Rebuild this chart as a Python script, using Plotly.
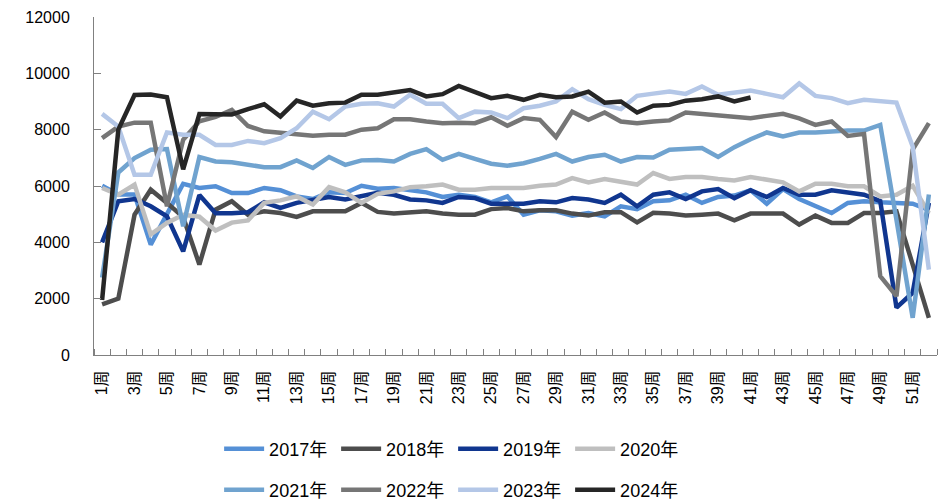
import plotly.graph_objects as go

weeks = list(range(1, 53))
tick_weeks = [1, 3, 5, 7, 9, 11, 13, 15, 17, 19, 21, 23, 25, 27, 29, 31, 33, 35, 37, 39, 41, 43, 45, 47, 49, 51]
tick_labels = ["1周", "3周", "5周", "7周", "9周", "11周", "13周", "15周", "17周", "19周", "21周", "23周", "25周",
               "27周", "29周", "31周", "33周", "35周", "37周", "39周", "41周", "43周", "45周", "47周", "49周", "51周"]

y2017 = [6010, 5700, 5700, 3920, 5000, 6080, 5930, 5990, 5750, 5750, 5930, 5850, 5630, 5540, 5775, 5750, 6010, 5900,
         5930, 5850, 5775, 5610, 5690, 5610, 5420, 5630, 4980, 5140, 5100, 4950, 5040, 4920, 5280, 5180, 5460, 5490,
         5690, 5400, 5610, 5660, 5850, 5370, 5890, 5540, 5280, 5040, 5400, 5460, 5420, 5400, 5370, 5150]
y2018 = [1800, 2000, 4980, 5870, 5400, 4900, 3210, 5160, 5460, 4980, 5100, 5040, 4900, 5100, 5100, 5100, 5400, 5080,
         5020, 5070, 5100, 5020, 4980, 4980, 5180, 5220, 5100, 5140, 5140, 5020, 4950, 5070, 5070, 4710, 5050, 5020,
         4950, 4980, 5020, 4780, 5020, 5020, 5020, 4630, 4950, 4690, 4690, 5040, 5040, 5100, 3250, 1320]
y2019 = [4000, 5460, 5540, 5280, 4920, 3680, 5680, 5030, 5030, 5070, 5420, 5220, 5400, 5520, 5610, 5520, 5630, 5760,
         5690, 5520, 5490, 5400, 5610, 5570, 5370, 5370, 5370, 5460, 5420, 5570, 5520, 5400, 5690, 5280, 5690, 5775,
         5540, 5810, 5890, 5570, 5850, 5610, 5930, 5690, 5690, 5850, 5775, 5690, 5460, 1680, 2210, 5400]
y2020 = [5930, 5690, 6050, 4280, 4690, 4980, 4910, 4420, 4700, 4780, 5400, 5490, 5630, 5340, 5960, 5775, 5400, 5720,
         5810, 5960, 5990, 6050, 5870, 5870, 5930, 5930, 5930, 6010, 6050, 6280, 6130, 6250, 6160, 6050, 6460, 6250,
         6320, 6320, 6250, 6200, 6320, 6220, 6130, 5810, 6080, 6080, 5990, 5990, 5630, 5690, 6010, 5040]
y2021 = [2750, 6480, 6990, 7290, 7310, 4570, 7030, 6870, 6840, 6750, 6670, 6670, 6910, 6640, 7030, 6750, 6910, 6920,
         6870, 7140, 7310, 6930, 7140, 6960, 6790, 6720, 6810, 6960, 7140, 6870, 7030, 7110, 6870, 7030, 7010, 7290,
         7310, 7350, 7030, 7380, 7660, 7900, 7760, 7900, 7900, 7940, 7970, 7970, 8170, 4800, 1320, 5700]
y2022 = [7700, 8110, 8250, 8250, 5280, 7640, 8300, 8450, 8700, 8130, 7940, 7880, 7820, 7780, 7820, 7820, 8000, 8050,
         8370, 8370, 8290, 8230, 8250, 8230, 8440, 8140, 8410, 8350, 7740, 8640, 8350, 8610, 8290, 8230, 8290, 8330,
         8610, 8560, 8490, 8470, 8410, 8490, 8560, 8400, 8170, 8290, 7780, 7850, 2800, 2090, 7290, 8230]
y2023 = [8560, 8110, 6400, 6400, 7900, 7820, 7820, 7460, 7460, 7600, 7520, 7700, 8050, 8640, 8370, 8820, 8920, 8940,
         8820, 9240, 8920, 8920, 8410, 8640, 8610, 8410, 8760, 8850, 9000, 9440, 9080, 8880, 8730, 9200, 9280, 9350,
         9270, 9530, 9240, 9320, 9390, 9270, 9150, 9640, 9200, 9120, 8940, 9060, 9030, 8960, 7400, 3030]
y2024 = [1950, 8000, 9230, 9250, 9150, 6590, 8555, 8555, 8540, 8730, 8900, 8470, 9030, 8850, 8940, 8960, 9240, 9240,
         9320, 9410, 9180, 9260, 9550, 9320, 9120, 9200, 9060, 9240, 9150, 9180, 9350, 8960, 9000, 8610, 8850, 8880,
         9030, 9080, 9180, 9000, 9140]

series = [
    ("2017年", y2017, "#5590D6", "legend"),
    ("2018年", y2018, "#4D4D4D", "legend"),
    ("2019年", y2019, "#10368F", "legend"),
    ("2020年", y2020, "#BFBFBF", "legend"),
    ("2021年", y2021, "#70A3CF", "legend2"),
    ("2022年", y2022, "#767676", "legend2"),
    ("2023年", y2023, "#B4C7E7", "legend2"),
    ("2024年", y2024, "#262626", "legend2"),
]

fig = go.Figure()
for name, vals, color, leg in series:
    fig.add_trace(go.Scatter(
        x=weeks[:len(vals)], y=vals, name=name, mode="lines",
        line=dict(color=color, width=4.5), legend=leg,
    ))

family = "Liberation Sans, Arial, Noto Sans CJK SC, sans-serif"
legend_font = dict(family=family, size=18, color="#000000")
fig.update_layout(
    width=944, height=502,
    margin=dict(l=94, r=7, t=17, b=147),
    plot_bgcolor="white", paper_bgcolor="white",
    font=dict(family=family, size=15, color="#000000"),
    showlegend=True,
    legend=dict(orientation="h", x=0.426, xanchor="center", yref="container", y=1 - 449 / 502,
                yanchor="middle", entrywidth=62, font=legend_font, itemwidth=40, tracegroupgap=0),
    legend2=dict(orientation="h", x=0.426, xanchor="center", yref="container", y=1 - 490 / 502,
                 yanchor="middle", entrywidth=62, font=legend_font, itemwidth=40, tracegroupgap=0),
)
fig.update_xaxes(
    range=[0.5, 52.5], tickmode="array", tickvals=tick_weeks, ticktext=tick_labels,
    tickangle=-90, ticks="", showline=True, linecolor="#808080", linewidth=1,
    showgrid=False, zeroline=False, tickfont=dict(size=16), automargin=False,
    ticklabelstandoff=8,
    minor=dict(tickmode="linear", tick0=0.5, dtick=1, ticks="inside", ticklen=6,
               tickcolor="#808080", showgrid=False),
)
fig.update_yaxes(
    range=[0, 12000], tickmode="linear", tick0=0, dtick=2000, tickformat="d",
    ticks="inside", ticklen=7, automargin=False, ticklabelstandoff=20,
    tickcolor="#808080", showline=True, linecolor="#808080", linewidth=1,
    showgrid=False, zeroline=False, tickfont=dict(size=16),
)

fig.write_html("out.html", config={"displayModeBar": False},
               post_script="document.body.style.margin='0';")
